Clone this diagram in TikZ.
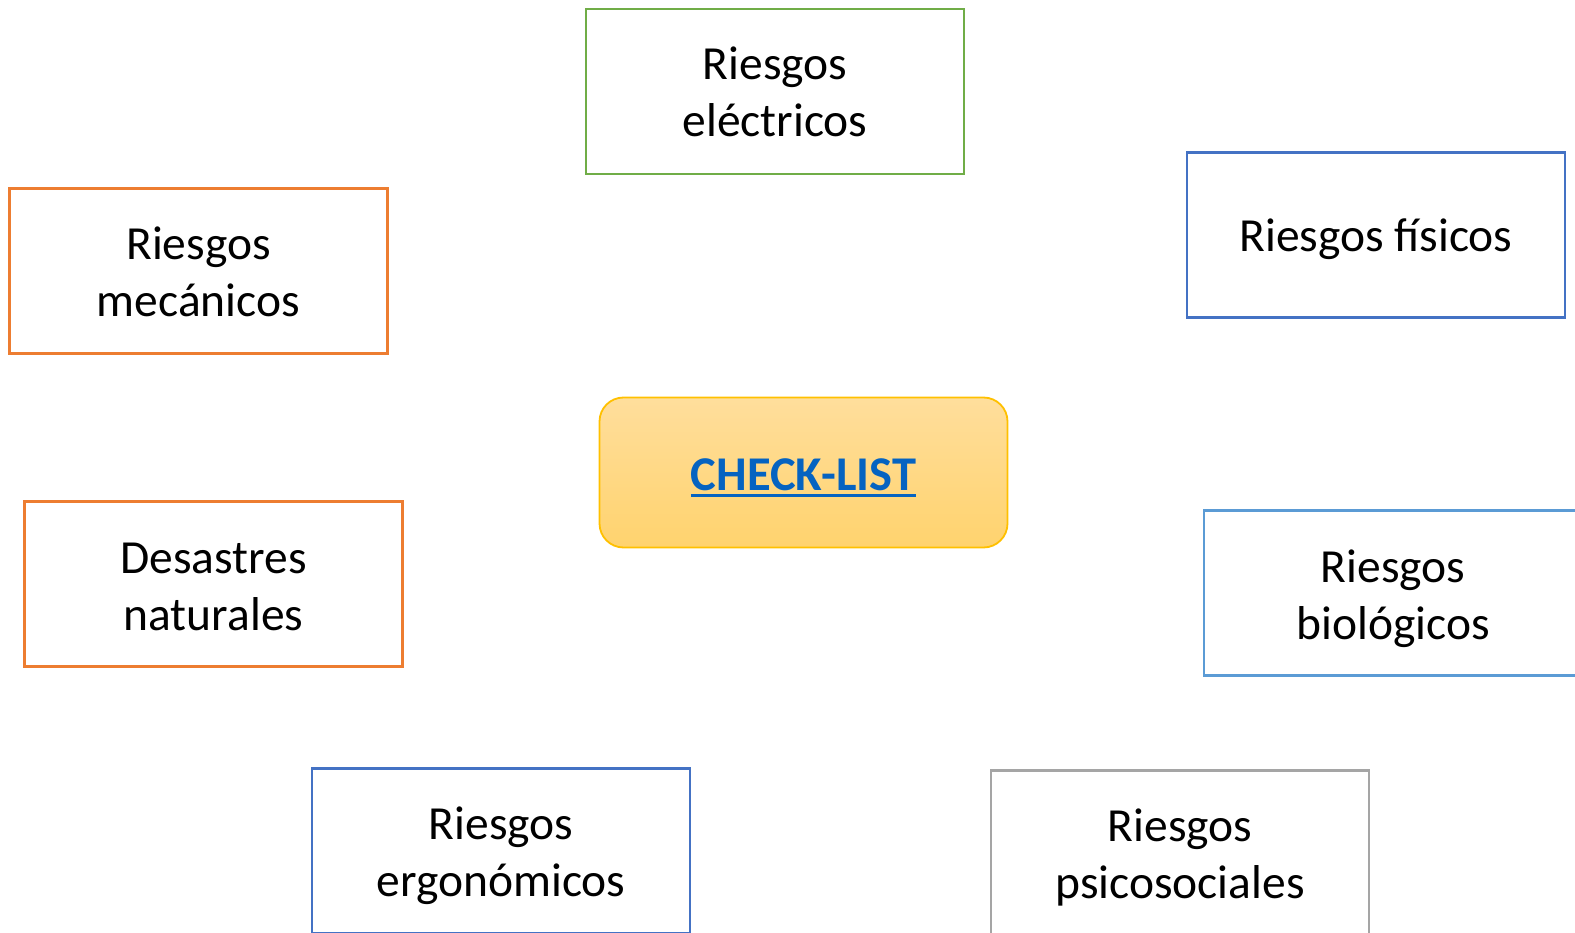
\documentclass[tikz,border=0pt]{standalone}
\usepackage{fontspec}
\setmainfont{Carlito}
\definecolor{cgreen}{HTML}{70AD47}
\definecolor{corange}{HTML}{ED7D31}
\definecolor{cblue}{HTML}{4472C4}
\definecolor{clblue}{HTML}{5B9BD5}
\definecolor{cgray}{HTML}{A5A5A5}
\definecolor{cgold}{HTML}{FFC000}
\definecolor{ctop}{HTML}{FFDE9C}
\definecolor{cbot}{HTML}{FFD36E}
\definecolor{clink}{HTML}{0563C1}
\newcommand\myul[1]{\setbox0\hbox{#1}\rlap{\rule[-7pt]{\wd0}{2.6pt}}\box0}
\begin{document}
\begin{tikzpicture}[x=1pt,y=-1pt,
  riskbox/.style={draw=#1, line width=2.8pt, rectangle, minimum width=378pt, minimum height=165pt,
    inner sep=0pt},
  risktext/.style={align=center, inner sep=0pt, font=\fontsize{47.5}{57}\selectfont},
  centerbox/.style={draw=cgold, line width=1.8pt, rounded corners=24pt, top color=ctop, bottom color=cbot,
    minimum width=408pt, minimum height=150pt, inner sep=0pt,
    font=\fontsize{48.5}{57}\selectfont\bfseries, text=clink}]
\useasboundingbox (0,0) rectangle (1575,933);
\clip (0,0) rectangle (1575,933);
\node[riskbox=cgreen, label={[risktext]center:Riesgos\\eléctricos}] (elec) at (775,91.5) {};
\node[riskbox=corange, label={[risktext, yshift=-1pt]center:Riesgos\\mecánicos}] (mec) at (198.5,271) {};
\node[riskbox=cblue, label={[risktext, yshift=-4pt]center:Riesgos físicos}] (fis) at (1376,235) {};
\node[centerbox] (check) at (803.5,472.5) {\raisebox{-17.5pt}[0pt][0pt]{\myul{CHECK-LIST}}};
\node[riskbox=corange, label={[risktext, yshift=-3pt]center:Desastres\\naturales}] (des) at (213.5,584) {};
\node[riskbox=clblue, label={[risktext, yshift=-6pt]center:Riesgos\\biológicos}] (bio) at (1393,593) {};
\node[riskbox=cblue, label={[risktext, yshift=-5pt]center:Riesgos\\ergonómicos}] (erg) at (501,851) {};
\node[riskbox=cgray, label={[risktext, yshift=-4.5pt]center:Riesgos\\psicosociales}] (psi) at (1180,853) {};
\end{tikzpicture}
\end{document}
